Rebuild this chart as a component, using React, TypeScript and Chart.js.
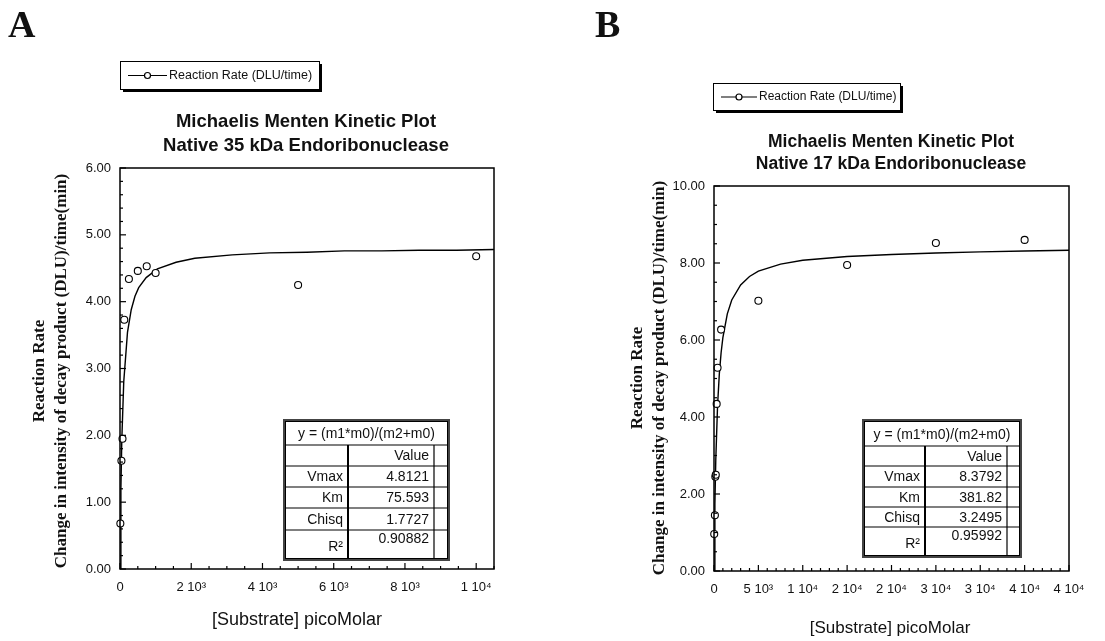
import React, { useEffect, useRef } from 'react';
import { Chart, registerables } from 'chart.js';

Chart.register(...registerables);

// ---------------- Panel A data ----------------
const substrateA = [10, 40, 70, 120, 250, 500, 750, 1000, 5000, 10000];
const rateA = [0.68, 1.62, 1.95, 3.73, 4.34, 4.46, 4.53, 4.43, 4.25, 4.68];
const fitSubstrateA = [0, 25, 50, 105, 210, 315, 420, 525, 735, 1050, 1575, 2100, 3150, 4200, 5250, 6300, 7350, 8400, 9450, 10500];
const fitRateA = [0, 1.2, 1.92, 2.8, 3.54, 3.88, 4.08, 4.21, 4.36, 4.49, 4.59, 4.65, 4.7, 4.73, 4.74, 4.76, 4.76, 4.77, 4.77, 4.78];
const xTicksA = [0, 2000, 4000, 6000, 8000, 10000];
const xTickLabelsA = ['0', '2 10³', '4 10³', '6 10³', '8 10³', '1 10⁴'];
const yTicksA = [0, 1, 2, 3, 4, 5, 6];
const paramNamesA = ['Vmax', 'Km', 'Chisq', 'R²'];
const paramValuesA = ['4.8121', '75.593', '1.7727', '0.90882'];
const titleLinesA = ['Michaelis Menten Kinetic Plot', 'Native 35 kDa Endoribonuclease'];

// ---------------- Panel B data ----------------
const substrateB = [25, 100, 150, 200, 300, 400, 800, 5000, 15000, 25000, 35000];
const rateB = [0.96, 1.45, 2.45, 2.5, 4.34, 5.28, 6.27, 7.02, 7.95, 8.52, 8.6];
const fitSubstrateB = [0, 100, 200, 400, 600, 800, 1000, 1500, 2000, 3000, 4000, 5000, 7500, 10000, 15000, 20000, 25000, 30000, 35000, 40000];
const fitRateB = [0, 1.74, 2.88, 4.29, 5.12, 5.67, 6.06, 6.68, 7.04, 7.43, 7.65, 7.79, 7.97, 8.07, 8.17, 8.22, 8.26, 8.29, 8.31, 8.33];
const xTicksB = [0, 5000, 10000, 15000, 20000, 25000, 30000, 35000, 40000];
const xTickLabelsB = ['0', '5 10³', '1 10⁴', '2 10⁴', '2 10⁴', '3 10⁴', '3 10⁴', '4 10⁴', '4 10⁴'];
const yTicksB = [0, 2, 4, 6, 8, 10];
const paramNamesB = ['Vmax', 'Km', 'Chisq', 'R²'];
const paramValuesB = ['8.3792', '381.82', '3.2495', '0.95992'];
const titleLinesB = ['Michaelis Menten Kinetic Plot', 'Native 17 kDa Endoribonuclease'];

// ---------------- shared text ----------------
const seriesLabel = 'Reaction Rate (DLU/time)';
const fitEquation = 'y = (m1*m0)/(m2+m0)';
const tableHeader = 'Value';
const xTitle = '[Substrate] picoMolar';
const yTitle1 = 'Reaction Rate';
const yTitle2 = 'Change in intensity of decay product (DLU)/time(min)';

const SANS = '"Liberation Sans", Arial, sans-serif';
const SERIF = '"Liberation Serif", "Times New Roman", serif';
const INK = '#111';

type PanelCfg = {
  letter: string;
  left: number;
  width: number;
  height: number;
  area: { left: number; top: number; right: number; bottom: number };
  xMax: number;
  yMax: number;
  xMinor: number;
  yMinor: number;
  xs: number[];
  ys: number[];
  fitX: number[];
  fitY: number[];
  xTicks: number[];
  xTickLabels: string[];
  yTicks: number[];
  names: string[];
  values: string[];
  titleLines: string[];
  titleFont: number;
  titleX: number;
  titleY: number[];
  letterX: number;
  legend: { x: number; y: number; w: number; h: number; lx0: number; lx1: number; tx: number; font: number };
  xTitleX: number;
  xTitleY: number;
  xTitleFont: number;
  yTitleX: number[];
  yTitleY: number;
  yTitleFont: number;
  table: { left: number; top: number; right: number; bottom: number; rows: number[]; col1: number; col2: number };
};

const panelA: PanelCfg = {
  letter: 'A', left: 0, width: 560, height: 641,
  area: { left: 120, top: 168, right: 494, bottom: 569 },
  xMax: 10500, yMax: 6, xMinor: 500, yMinor: 0.2,
  xs: substrateA, ys: rateA, fitX: fitSubstrateA, fitY: fitRateA,
  xTicks: xTicksA, xTickLabels: xTickLabelsA, yTicks: yTicksA,
  names: paramNamesA, values: paramValuesA,
  titleLines: titleLinesA, titleFont: 18.5, titleX: 306, titleY: [122, 146],
  letterX: 8,
  legend: { x: 120, y: 61, w: 199, h: 28, lx0: 128, lx1: 167, tx: 169, font: 12.5 },
  xTitleX: 297, xTitleY: 620, xTitleFont: 18,
  yTitleX: [40, 62], yTitleY: 371, yTitleFont: 17,
  table: { left: 283, top: 419, right: 450, bottom: 561, rows: [445, 466, 487, 508, 530], col1: 348, col2: 434 },
};

const panelB: PanelCfg = {
  letter: 'B', left: 560, width: 545, height: 641,
  area: { left: 154, top: 186, right: 509, bottom: 571 },
  xMax: 40000, yMax: 10, xMinor: 1000, yMinor: 0.5,
  xs: substrateB, ys: rateB, fitX: fitSubstrateB, fitY: fitRateB,
  xTicks: xTicksB, xTickLabels: xTickLabelsB, yTicks: yTicksB,
  names: paramNamesB, values: paramValuesB,
  titleLines: titleLinesB, titleFont: 17.5, titleX: 331, titleY: [142, 164],
  letterX: 35,
  legend: { x: 153, y: 83, w: 187, h: 27, lx0: 161, lx1: 197, tx: 199, font: 12 },
  xTitleX: 330, xTitleY: 628, xTitleFont: 17,
  yTitleX: [78, 100], yTitleY: 378, yTitleFont: 17,
  table: { left: 302, top: 419, right: 462, bottom: 558, rows: [446, 466, 487, 507, 527], col1: 365, col2: 447 },
};

function isMajor(v: number, majors: number[]) {
  return majors.some((m) => Math.abs(m - v) < 1e-6);
}

function makeDecor(p: PanelCfg) {
  return {
    id: 'decor' + p.letter,
    afterDraw(chart: any) {
      const ctx: CanvasRenderingContext2D = chart.ctx;
      const { left, right, top, bottom } = chart.chartArea;
      const xs = chart.scales.x;
      const ys = chart.scales.y;
      ctx.save();

      // frame
      ctx.strokeStyle = '#000';
      ctx.lineWidth = 1.5;
      ctx.strokeRect(left, top, right - left, bottom - top);

      // inward ticks
      ctx.lineWidth = 1.2;
      const nx = Math.round(p.xMax / p.xMinor);
      for (let i = 0; i <= nx; i++) {
        const v = i * p.xMinor;
        const px = xs.getPixelForValue(v);
        const len = isMajor(v, p.xTicks) ? 6 : 3;
        ctx.beginPath();
        ctx.moveTo(px, bottom);
        ctx.lineTo(px, bottom - len);
        ctx.stroke();
      }
      const ny = Math.round(p.yMax / p.yMinor);
      for (let i = 0; i <= ny; i++) {
        const v = i * p.yMinor;
        const py = ys.getPixelForValue(v);
        const len = isMajor(v, p.yTicks) ? 6 : 3;
        ctx.beginPath();
        ctx.moveTo(left, py);
        ctx.lineTo(left + len, py);
        ctx.stroke();
      }

      ctx.fillStyle = INK;
      // panel letter
      ctx.font = `bold 38px ${SERIF}`;
      ctx.textAlign = 'left';
      ctx.textBaseline = 'alphabetic';
      ctx.fillText(p.letter, p.letterX, 37);

      // title
      ctx.font = `bold ${p.titleFont}px ${SANS}`;
      ctx.textAlign = 'center';
      ctx.textBaseline = 'middle';
      p.titleLines.forEach((t, i) => ctx.fillText(t, p.titleX, p.titleY[i]));

      // x title
      ctx.font = `${p.xTitleFont}px ${SANS}`;
      ctx.fillText(xTitle, p.xTitleX, p.xTitleY);

      // y titles
      ctx.font = `bold ${p.yTitleFont}px ${SERIF}`;
      [yTitle1, yTitle2].forEach((t, i) => {
        ctx.save();
        ctx.translate(p.yTitleX[i], p.yTitleY);
        ctx.rotate(-Math.PI / 2);
        ctx.fillText(t, 0, 0);
        ctx.restore();
      });

      // legend
      const lg = p.legend;
      ctx.fillStyle = '#000';
      ctx.fillRect(lg.x + 3, lg.y + 3, lg.w, lg.h);
      ctx.fillStyle = '#fff';
      ctx.fillRect(lg.x, lg.y, lg.w, lg.h);
      ctx.strokeStyle = '#000';
      ctx.lineWidth = 1;
      ctx.strokeRect(lg.x + 0.5, lg.y + 0.5, lg.w, lg.h);
      const cy = lg.y + lg.h / 2 + 0.5;
      ctx.lineWidth = 1.2;
      ctx.beginPath();
      ctx.moveTo(lg.lx0, cy);
      ctx.lineTo(lg.lx1, cy);
      ctx.stroke();
      ctx.beginPath();
      ctx.arc((lg.lx0 + lg.lx1) / 2, cy, 3, 0, Math.PI * 2);
      ctx.fillStyle = '#fff';
      ctx.fill();
      ctx.stroke();
      ctx.fillStyle = INK;
      ctx.font = `${lg.font}px ${SANS}`;
      ctx.textAlign = 'left';
      ctx.textBaseline = 'middle';
      ctx.fillText(seriesLabel, lg.tx, cy);

      // parameter table
      const t = p.table;
      ctx.fillStyle = '#fff';
      ctx.fillRect(t.left, t.top, t.right - t.left, t.bottom - t.top);
      ctx.strokeStyle = '#444';
      ctx.lineWidth = 2;
      ctx.strokeRect(t.left + 1, t.top + 1, t.right - t.left - 2, t.bottom - t.top - 2);
      const il = t.left + 2.5, it = t.top + 2.5, ir = t.right - 2.5, ib = t.bottom - 2.5;
      ctx.strokeStyle = '#000';
      ctx.lineWidth = 1;
      ctx.strokeRect(il, it, ir - il, ib - it);
      ctx.lineWidth = 1.2;
      t.rows.forEach((ry) => {
        ctx.beginPath();
        ctx.moveTo(il, ry);
        ctx.lineTo(ir, ry);
        ctx.stroke();
      });
      ctx.lineWidth = 2;
      ctx.beginPath();
      ctx.moveTo(t.col1, t.rows[0]);
      ctx.lineTo(t.col1, ib);
      ctx.stroke();
      ctx.lineWidth = 1.2;
      ctx.beginPath();
      ctx.moveTo(t.col2, t.rows[0]);
      ctx.lineTo(t.col2, ib);
      ctx.stroke();

      ctx.fillStyle = INK;
      ctx.font = `14px ${SANS}`;
      ctx.textBaseline = 'middle';
      ctx.textAlign = 'center';
      ctx.fillText(fitEquation, (il + ir) / 2, (it + t.rows[0]) / 2 + 1);
      ctx.textAlign = 'right';
      ctx.fillText(tableHeader, t.col2 - 5, (t.rows[0] + t.rows[1]) / 2 + 1);
      const bounds = [...t.rows, ib];
      p.names.forEach((nm, i) => {
        const y0 = bounds[i + 1];
        const y1 = bounds[i + 2];
        const last = i === p.names.length - 1;
        const nameY = last ? y1 - 11 : (y0 + y1) / 2 + 1;
        const valY = last ? y0 + 9 : (y0 + y1) / 2 + 1;
        ctx.fillText(nm, t.col1 - 5, nameY);
        ctx.fillText(p.values[i], t.col2 - 5, valY);
      });

      ctx.restore();
    },
  };
}

function Panel({ p }: { p: PanelCfg }) {
  const ref = useRef<HTMLCanvasElement | null>(null);
  useEffect(() => {
    if (!ref.current) return;
    const chart = new Chart(ref.current, {
      type: 'scatter',
      data: {
        datasets: [
          {
            label: 'fit',
            data: p.fitX.map((x, i) => ({ x, y: p.fitY[i] })),
            showLine: true,
            borderColor: '#000',
            borderWidth: 1.4,
            pointRadius: 0,
            tension: 0,
            order: 2,
          } as any,
          {
            label: seriesLabel,
            data: p.xs.map((x, i) => ({ x, y: p.ys[i] })),
            showLine: false,
            pointRadius: 3.5,
            pointStyle: 'circle',
            borderColor: '#000',
            backgroundColor: '#fff',
            pointBorderWidth: 1.1,
            clip: false,
            order: 1,
          } as any,
        ],
      },
      options: {
        responsive: false,
        animation: false,
        events: [],
        layout: { padding: { left: 0, top: p.area.top, right: p.width - p.area.right, bottom: 0 } },
        plugins: { legend: { display: false }, title: { display: false }, tooltip: { enabled: false } },
        scales: {
          x: {
            type: 'linear',
            min: 0,
            max: p.xMax,
            grid: { display: false, drawTicks: false },
            border: { display: false },
            afterFit: (s: any) => {
              s.height = p.height - p.area.bottom;
            },
            afterBuildTicks: (s: any) => {
              s.ticks = p.xTicks.map((v) => ({ value: v }));
            },
            ticks: {
              padding: 11,
              maxRotation: 0,
              autoSkip: false,
              color: INK,
              font: { family: SANS, size: 13 },
              callback: (v: any) => p.xTickLabels[p.xTicks.indexOf(Number(v))] ?? '',
            },
          },
          y: {
            type: 'linear',
            min: 0,
            max: p.yMax,
            grid: { display: false, drawTicks: false },
            border: { display: false },
            afterFit: (s: any) => {
              s.width = p.area.left;
            },
            afterBuildTicks: (s: any) => {
              s.ticks = p.yTicks.map((v) => ({ value: v }));
            },
            ticks: {
              padding: 9,
              autoSkip: false,
              color: INK,
              font: { family: SANS, size: 13 },
              callback: (v: any) => Number(v).toFixed(2),
            },
          },
        },
      } as any,
      plugins: [makeDecor(p)],
    });
    return () => chart.destroy();
  }, [p]);
  return (
    <canvas
      ref={ref}
      width={p.width}
      height={p.height}
      style={{ position: 'absolute', left: p.left, top: 0, width: p.width, height: p.height }}
    />
  );
}

export default function App() {
  useEffect(() => {
    document.body.style.margin = '0';
    document.body.style.background = '#fff';
  }, []);
  return (
    <div style={{ position: 'relative', width: 1105, height: 641, background: '#fff', overflow: 'hidden' }}>
      <Panel p={panelA} />
      <Panel p={panelB} />
    </div>
  );
}
